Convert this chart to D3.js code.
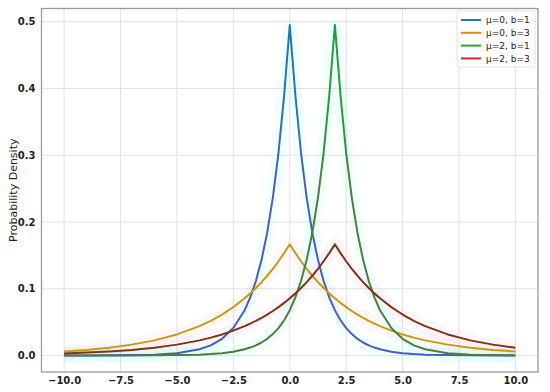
<!DOCTYPE html>
<html>
<head>
<meta charset="utf-8">
<script src="https://cdn.jsdelivr.net/npm/d3@7"></script>
<style>
  body { margin: 0; background: #fff; }
  svg { font-family: "DejaVu Sans", sans-serif; }
</style>
</head>
<body>
<svg id="chart" width="550" height="392"></svg>
<script>
// x positions the curves were read at
const xs = [-10, -9, -8, -7, -6, -5, -4, -3.5, -3, -2.5, -2, -1.75, -1.5, -1.25, -1, -0.75, -0.5, -0.25,
  0, 0.25, 0.5, 0.75, 1, 1.25, 1.5, 1.75, 2, 2.25, 2.5, 2.75, 3, 3.25, 3.5, 3.75, 4, 4.5, 5, 5.5, 6, 7, 8, 9, 10];

// density values
const mu0b1 = [0.0000, 0.0001, 0.0002, 0.0005, 0.0012, 0.0034, 0.0092, 0.0151, 0.0249, 0.0410, 0.0677, 0.0869, 0.1116, 0.1433, 0.1839, 0.2362, 0.3033, 0.3894,
  0.495, 0.3894, 0.3033, 0.2362, 0.1839, 0.1433, 0.1116, 0.0869, 0.0677, 0.0527, 0.0410, 0.0320, 0.0249, 0.0194, 0.0151, 0.0118, 0.0092, 0.0056, 0.0034, 0.0020, 0.0012, 0.0005, 0.0002, 0.0001, 0.0000];
const mu0b3 = [0.0060, 0.0083, 0.0116, 0.0162, 0.0226, 0.0315, 0.0439, 0.0519, 0.0613, 0.0724, 0.0856, 0.0930, 0.1011, 0.1099, 0.1194, 0.1298, 0.1411, 0.1533,
  0.1667, 0.1533, 0.1411, 0.1298, 0.1194, 0.1099, 0.1011, 0.0930, 0.0856, 0.0787, 0.0724, 0.0666, 0.0613, 0.0564, 0.0519, 0.0478, 0.0439, 0.0372, 0.0315, 0.0267, 0.0226, 0.0162, 0.0116, 0.0083, 0.0060];
const mu2b1 = [0.0000, 0.0000, 0.0000, 0.0001, 0.0002, 0.0005, 0.0012, 0.0020, 0.0034, 0.0056, 0.0092, 0.0118, 0.0151, 0.0194, 0.0249, 0.0320, 0.0410, 0.0527,
  0.0677, 0.0869, 0.1116, 0.1433, 0.1839, 0.2362, 0.3033, 0.3894, 0.495, 0.3894, 0.3033, 0.2362, 0.1839, 0.1433, 0.1116, 0.0869, 0.0677, 0.0410, 0.0249, 0.0151, 0.0092, 0.0034, 0.0012, 0.0005, 0.0002];
const mu2b3 = [0.0031, 0.0043, 0.0060, 0.0083, 0.0116, 0.0162, 0.0226, 0.0267, 0.0315, 0.0372, 0.0439, 0.0478, 0.0519, 0.0564, 0.0613, 0.0666, 0.0724, 0.0787,
  0.0856, 0.0930, 0.1011, 0.1099, 0.1194, 0.1298, 0.1411, 0.1533, 0.1667, 0.1533, 0.1411, 0.1298, 0.1194, 0.1099, 0.1011, 0.0930, 0.0856, 0.0724, 0.0613, 0.0519, 0.0439, 0.0315, 0.0226, 0.0162, 0.0116];

const labels = ["\u03bc=0, b=1", "\u03bc=0, b=3", "\u03bc=2, b=1", "\u03bc=2, b=3"];
const xTicks = [-10, -7.5, -5, -2.5, 0, 2.5, 5, 7.5, 10];
const yTicks = [0, 0.1, 0.2, 0.3, 0.4, 0.5];

const svg = d3.select("#chart");
const plotL = 41.5, plotR = 538, plotT = 8.5, plotB = 372;

const x = d3.scaleLinear().domain([-11, 11]).range([plotL, plotR]);
const y = d3.scaleLinear().domain([-0.0248, 0.5198]).range([plotB, plotT]);

// grid
svg.append("g").selectAll("line").data(xTicks).enter().append("line")
  .attr("x1", d => x(d)).attr("x2", d => x(d))
  .attr("y1", plotT).attr("y2", plotB)
  .attr("stroke", "#e3e3e3").attr("stroke-width", 1);
svg.append("g").selectAll("line").data(yTicks).enter().append("line")
  .attr("x1", plotL).attr("x2", plotR)
  .attr("y1", d => y(d)).attr("y2", d => y(d))
  .attr("stroke", "#e3e3e3").attr("stroke-width", 1);

// gradients for the two narrow curves (pure at the top, mixed lower down)
const defs = svg.append("defs");
function vGrad(id, topColor, lowColor) {
  const g = defs.append("linearGradient").attr("id", id)
    .attr("gradientUnits", "userSpaceOnUse")
    .attr("x1", 0).attr("x2", 0).attr("y1", y(0.36)).attr("y2", y(0.26));
  g.append("stop").attr("offset", 0).attr("stop-color", topColor);
  g.append("stop").attr("offset", 1).attr("stop-color", lowColor);
}
vGrad("gA", "#1f77b4", "#4a5cc0");
vGrad("gC", "#1f9f3a", "#4b7e3a");

const series = [
  { vals: mu0b1, stroke: "url(#gA)", glow: "#00ffff" },
  { vals: mu0b3, stroke: "#c29d0e", glow: "#ff66cc" },
  { vals: mu2b1, stroke: "url(#gC)", glow: "#00ffff" },
  { vals: mu2b3, stroke: "#7e3512", glow: "#ff66cc" }
];

const line = d3.line().x((d, i) => x(xs[i])).y(d => y(d));

const glowG = svg.append("g");
series.forEach(s => {
  glowG.append("path").datum(s.vals).attr("d", line)
    .attr("fill", "none").attr("stroke", s.glow)
    .attr("stroke-width", 14).attr("stroke-opacity", 0.05)
    .attr("stroke-linejoin", "round");
});
series.forEach(s => {
  svg.append("path").datum(s.vals).attr("d", line)
    .attr("fill", "none").attr("stroke", s.stroke)
    .attr("stroke-width", 2).attr("stroke-linejoin", "round");
});

// frame
svg.append("rect").attr("x", plotL).attr("y", plotT)
  .attr("width", plotR - plotL).attr("height", plotB - plotT)
  .attr("fill", "none").attr("stroke", "#9a9a9a").attr("stroke-width", 1.3);

// axes
const xAxis = svg.append("g").attr("transform", `translate(0,${plotB})`)
  .call(d3.axisBottom(x).tickValues(xTicks).tickSize(0).tickPadding(5)
    .tickFormat(d => d3.format(".1f")(d).replace("-", "\u2212")));
const yAxis = svg.append("g").attr("transform", `translate(${plotL},0)`)
  .call(d3.axisLeft(y).tickValues(yTicks).tickSize(0).tickPadding(6).tickFormat(d3.format(".1f")));
[xAxis, yAxis].forEach(a => {
  a.select(".domain").remove();
  a.selectAll("text").attr("font-size", 10).attr("font-weight", "bold")
    .attr("fill", "#222").attr("font-family", "DejaVu Sans, sans-serif");
});

svg.append("text")
  .attr("transform", `translate(17,${(plotT + plotB) / 2}) rotate(-90)`)
  .attr("text-anchor", "middle").attr("font-size", 11).attr("fill", "#222")
  .text("Probability Density");

// legend
const legendColors = ["#1f77b4", "#ff7f0e", "#2ca02c", "#d62728"];
const lg = svg.append("g");
lg.append("rect").attr("x", 457).attr("y", 11).attr("width", 78).attr("height", 56)
  .attr("rx", 2.5).attr("fill", "#fff").attr("fill-opacity", 0.85)
  .attr("stroke", "#dcdcdc").attr("stroke-width", 0.8);
labels.forEach((t, i) => {
  const yy = 20 + i * 12.8;
  lg.append("line").attr("x1", 461).attr("x2", 481).attr("y1", yy).attr("y2", yy)
    .attr("stroke", legendColors[i]).attr("stroke-width", 2);
  lg.append("text").attr("x", 486).attr("y", yy + 3.3)
    .attr("font-size", 9).attr("fill", "#222").text(t);
});
</script>
</body>
</html>
